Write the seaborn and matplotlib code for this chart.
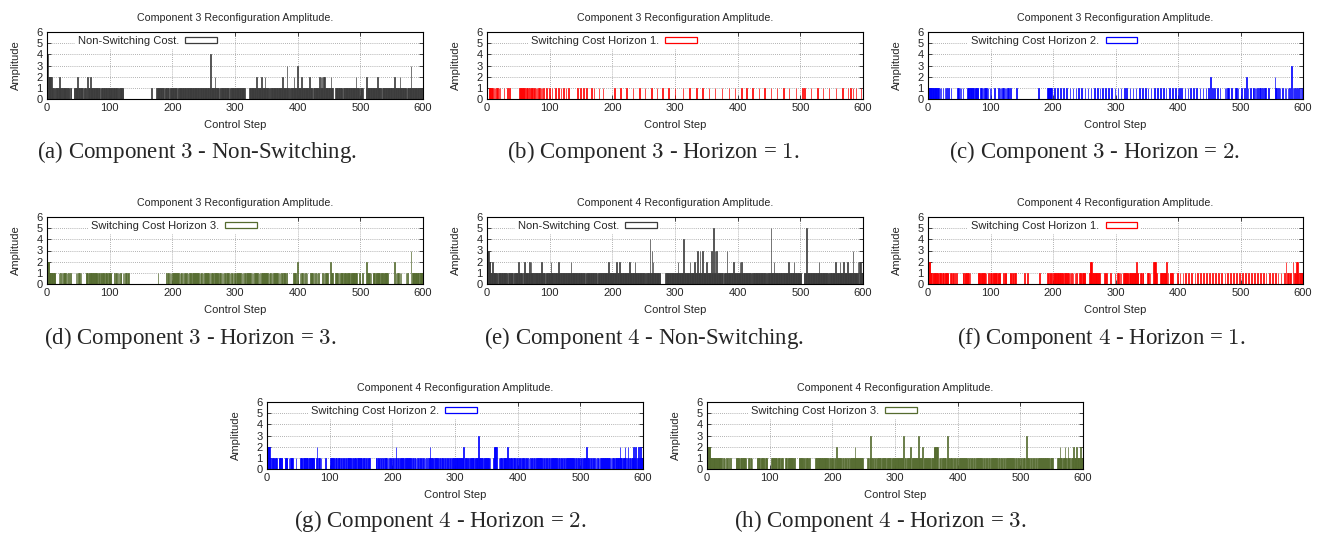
import numpy as np
import matplotlib
matplotlib.use("Agg")
import matplotlib.pyplot as plt
from matplotlib.patches import Patch
import seaborn as sns

# amplitude per control step (one digit per step, groups of 10)
c3_nonswitch = [
    "4422222211 1101111111 2111011111 1101110110 0001111112 1111111101 1110121112 1111111111 1111101111 1111110111",
    "1111011111 1111011111 1100000000 0000000000 0000000000 0000000000 0000000100 0000011111 1111111011 1111101111",
    "1111111101 1111111111 1101111111 1111111111 1111011111 1111111111 1411111121 1111101111 1111111111 1011111111",
    "1111111111 1111110000 0001111111 1111211111 1121111121 1111101111 1111111111 1111112111 1113111011 1111211111",
    "3111112111 1111111112 1111011111 1111121212 1212111111 1112111000 1111111111 1101111111 1111111111 1112111110",
    "1111000001 2111111111 1111111211 1111011111 1111111111 1101121111 1112111111 1111011111 1311111111 1111111111",
]
c3_h1 = [
    "0001111111 0101010101 0100000100 0001001000 0000000000 0011010110 1001010010 1101011010 1010101010 1000010000",
    "1000100001 0000100010 0010001000 1000000000 0000100001 0000100001 0000000100 0100000001 0000010000 0000000000",
    "0001000000 0001000000 0001000000 0001000000 0001000000 0010000000 0010000000 0100000000 1000000000 1000000000",
    "1000000000 0001000000 0001000000 0000100000 0000100000 0000100000 0000100000 0000010000 0000001000 0000001000",
    "0000001000 0000100000 0000100000 0000100000 0001000000 0001000000 0001000000 0001000000 0010000000 0001000000",
    "0001000100 0000000100 0000000100 0000001000 0000001000 0000000100 0000000100 0000001000 1000100001 0000000100",
]
c3_h2 = [
    "1111111111 1111111101 0100100100 1001000100 0000000101 0101001000 0001111011 1111011111 1000101010 1010101001",
    "0100001000 0001010101 0101010101 0010000000 0010000000 0000000000 0000000000 0000000100 0000000000 0111111110",
    "0010000100 0010000100 0010000100 0010000100 0100001000 0100001000 0100001000 0100010001 0000100001 0000100001",
    "0000100001 0000100010 0001000010 0001000010 0001000010 0010000100 0010000100 0010000100 0100001000 0100001000",
    "1010001000 0100001000 1000010000 1000010000 1000010001 0020010010 0001000100 0000010101 1100001000 0010101000",
    "0010001000 2010001000 1101010100 1010010010 1000010000 0000021010 0101000100 0101001010 0030101000 1001010101",
]
c3_h3 = [
    "2222111111 1111000001 0010101010 1010100100 0000001010 1010100000 0011110111 1101101111 1011011011 1101111011",
    "1110000010 1101010110 0101010101 1000000000 0000000000 0000000000 0000000000 0000000100 0000000000 0101101010",
    "1011010110 1010110101 1011010101 1010110101 1010101101 0101011010 1010110101 1011010101 0101101010 1010110101",
    "1010101101 0101011010 1011010101 0101101010 1010110101 1010101101 0101011010 1010110101 1010000000 0001010100",
    "2000101010 1010010000 1010101010 0101000000 1010101010 0020101000 1010101010 1110111101 1111011111 1111100001",
    "0001000000 2101010100 1111011111 1101111011 1111000000 0000020101 0101010000 0001010000 0301111011 1111011111",
]
c4_nonswitch = [
    "3332221112 1111111011 1111111111 1110111111 1101111111 2111111011 2111111121 2111101111 1111111211 1110111111",
    "1121111011 1111211111 1111111111 1111211111 1111101111 1110111011 1111111111 1011110111 1111111111 1111211111",
    "1111111211 1211111111 1111111211 1111112111 1111111111 1110111111 4113121111 1111111000 0000011111 1111111111",
    "1111121111 1111411111 1111211111 1211113111 3111311111 2111111131 1511313111 1111111011 1113111111 1112111111",
    "1111212111 1111111111 1101111111 1111111111 1111110111 1115111121 1111111111 1011111111 1211111111 2111111111",
    "1100001111 5111111111 1111111111 2111111111 1111101111 1111112111 1112111112 1111121111 1111311111 1120212111",
]
c4_h1 = [
    "2222111011 1110111011 1101110111 1110001101 1010001000 0000001101 1011010100 0000000000 1111011101 1101000100",
    "1110111011 1011110000 0101110000 0111011010 1000000000 0000100001 0000000000 0000000010 0000000000 0110110110",
    "0111101111 1110111011 1011010100 1010010010 0010110111 1100000012 2221011011 1101100000 0011011000 0010000001",
    "0001010101 0001111011 1011101101 1110211000 1101100000 0111010000 0222211000 0011110111 1120100110 1100000001",
    "0001000010 0010000100 0010000100 0100001000 0100001000 1000010000 1000010000 1000010001 0000100001 0000100010",
    "0001000010 0001000010 0010000100 0010000100 0100001000 0100001000 1000010000 1002010101 1000201101 2210110111",
]
c4_h2 = [
    "2222211011 1101110001 1111100001 1110010111 1100001000 0001111011 1101110111 0111110001 2011101000 0001000000",
    "0111011101 1101111011 0111011011 1011101101 1110111011 1101101011 0110100000 0000110111 0110110101 1101011011",
    "0110012101 1011011010 1101101101 1011011010 1101101101 1010010011 2110110101 1011011010 1101101101 1011011011",
    "0111101101 1011201111 0110111011 1011111311 0110101101 1011101000 0122222000 1011110111 1110211011 1101111011",
    "0110110111 1011011010 1101101101 1011011011 0110110110 1101101101 1011011011 0110110110 1101101101 1011011011",
    "0110110111 2101101101 1011010110 1010110101 1011010101 0101101111 1112111011 1210012011 0011121021 0112112111",
]
c4_h3 = [
    "2222221101 1110110111 1011001101 0110100100 0000001101 1101110111 1100001101 1010000000 1111101111 1101111000",
    "0001111011 1101111011 1000011101 1011011101 1000000111 0111011011 1101100000 0001011011 1101101111 0111011011",
    "1101101210 1101101101 1011011011 0110112101 1011010110 0000001101 1311011011 0110110101 1011010110 1101011011",
    "0110111101 1011301101 1011120110 1101101311 0111201101 1011011010 1122222220 1011011101 1101311011 1101101101",
    "1011011011 0110110110 1101101101 1011011011 0110110110 1101101101 1011011011 0110110110 1101101101 1011011011",
    "0110111101 3101101101 1011011011 0110110101 1011011010 1100000001 1112111011 1211012110 0011121111 2111112111",
]

titles = ["Component 3 Reconfiguration Amplitude."] * 4 + ["Component 4 Reconfiguration Amplitude."] * 4
keys = ["Non-Switching Cost.", "Switching Cost Horizon 1.", "Switching Cost Horizon 2.",
        "Switching Cost Horizon 3."] * 2
captions = [
    "(a) Component $3$ - Non-Switching.",
    "(b) Component $3$ - Horizon = $1$.",
    "(c) Component $3$ - Horizon = $2$.",
    "(d) Component $3$ - Horizon = $3$.",
    "(e) Component $4$ - Non-Switching.",
    "(f) Component $4$ - Horizon = $1$.",
    "(g) Component $4$ - Horizon = $2$.",
    "(h) Component $4$ - Horizon = $3$.",
]
series = [c3_nonswitch, c3_h1, c3_h2, c3_h3, c4_nonswitch, c4_h1, c4_h2, c4_h3]
colors = ["#3c3c3c", "#ff0000", "#0000ff", "#556b2f"] * 2


def to_amps(rows):
    return np.array([int(ch) for ch in "".join(rows).replace(" ", "")])


sns.set_style("ticks")
plt.rcParams["font.family"] = ["Liberation Sans", "DejaVu Sans"]
plt.rcParams["mathtext.fontset"] = "cm"

W, H = 1324, 535
fig = plt.figure(figsize=(W / 100, H / 100), dpi=100)

# axes boxes in pixels: left, top, right, bottom
boxes = [
    (47, 32, 423, 99), (487, 32, 863, 99), (928, 32, 1303, 99),
    (47, 217, 423, 284), (487, 217, 863, 284), (928, 217, 1303, 284),
    (267, 402, 643, 469), (707, 402, 1083, 469),
]
# caption centres in pixels
cap_pos = [(197, 152), (653, 152), (1095, 152),
           (190, 338), (644, 338), (1101, 338),
           (440, 521), (880, 521)]

for i in range(8):
    l, t, r, b = boxes[i]
    ax = fig.add_axes([l / W, 1 - b / H, (r - l) / W, (b - t) / H])
    amps = to_amps(series[i])
    steps = np.arange(len(amps))
    keep = amps > 0
    col = colors[i]
    sns.histplot(x=steps[keep], weights=amps[keep], discrete=True, ax=ax,
                 color=col, edgecolor=col, linewidth=0.5, alpha=1)
    ax.set_xlim(0, 600)
    ax.set_ylim(0, 6)
    ax.set_xticks(range(0, 601, 100))
    ax.set_yticks(range(0, 7))
    ax.set_axisbelow(True)
    ax.grid(True, color="#999999", linestyle=(0, (1, 1.5)), linewidth=0.6)
    ax.tick_params(direction="in", length=3, width=0.6, top=True, right=True,
                   labelsize=8, pad=3)
    for sp in ax.spines.values():
        sp.set_linewidth(0.8)
        sp.set_color("black")
        sp.set_zorder(6)
    ax.set_title(titles[i], fontsize=7.7, pad=8)
    ax.set_xlabel("Control Step", fontsize=8)
    ax.xaxis.set_label_coords(0.5, -0.32)
    ax.set_ylabel("Amplitude", fontsize=8)
    ax.yaxis.set_label_coords(-0.07, 0.5)

    key_end = 0.461 if "Non" in keys[i] else 0.567
    leg = ax.legend(handles=[Patch(facecolor="white", edgecolor=col, linewidth=0.9)],
                    labels=[keys[i]], loc="upper right", bbox_to_anchor=(key_end, 0.99),
                    markerfirst=False, frameon=True, fancybox=False, framealpha=1,
                    borderaxespad=0, borderpad=0.3, handlelength=2.85, handleheight=0.5,
                    handletextpad=0.55, fontsize=8)
    leg.get_frame().set_linewidth(0)
    leg.set_zorder(3)

    cx, cy = cap_pos[i]
    fig.text(cx / W, 1 - cy / H, captions[i], ha="center", va="center",
             fontsize=16.5, family="Liberation Serif")

fig.savefig("out.png", dpi=100)
